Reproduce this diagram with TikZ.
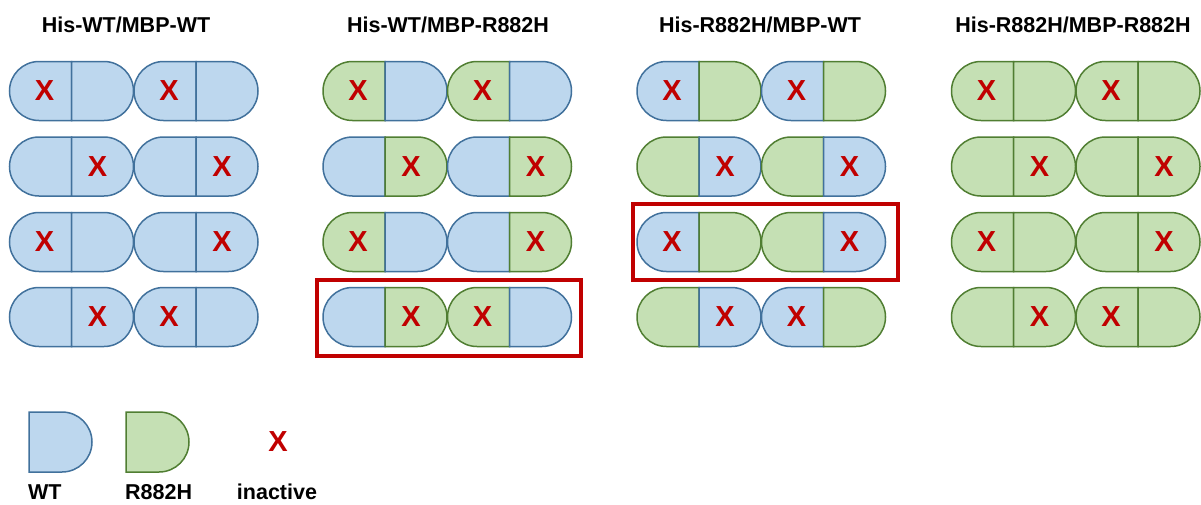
\documentclass[tikz,border=0pt]{standalone}
\usepackage{fontspec}
\setmainfont{Liberation Sans}
\definecolor{wtfill}{HTML}{BDD7EE}
\definecolor{wtline}{HTML}{41719C}
\definecolor{mutfill}{HTML}{C5E0B4}
\definecolor{mutline}{HTML}{507E32}
\definecolor{xred}{HTML}{C00000}
\tikzset{
  wt/.style={fill=wtfill,draw=wtline,line width=1.5pt},
  mut/.style={fill=mutfill,draw=mutline,line width=1.5pt},
  xmark/.style={text=xred,font=\fontsize{29}{29}\selectfont\bfseries,inner sep=0pt},
  title/.style={font=\fontsize{21.5}{21.5}\selectfont\bfseries,anchor=base,inner sep=0pt},
  legendlabel/.style={font=\fontsize{21.5}{21.5}\selectfont\bfseries,anchor=base,inner sep=0pt},
  redbox/.style={draw=xred,line width=4pt}
}
% left half: #1 divider x, #2 centre y (pixels, downward), #3 style
\newcommand{\lhalf}[3]{%
  \filldraw[#3] ({#1},{29.5-#2}) -- ({#1-32.5},{29.5-#2})
    arc[start angle=90,end angle=270,radius=29.5] -- ({#1},{-29.5-#2}) -- cycle;}
\newcommand{\rhalf}[3]{%
  \filldraw[#3] ({#1},{29.5-#2}) -- ({#1+32.5},{29.5-#2})
    arc[start angle=90,end angle=-90,radius=29.5] -- ({#1},{-29.5-#2}) -- cycle;}
% pill: #1 left x, #2 centre y, #3 left style, #4 right style, #5 X side (l/r)
\newcommand{\pill}[5]{%
  \lhalf{#1+62}{#2}{#3}\rhalf{#1+62}{#2}{#4}%
  \if#5l\node[xmark] at ({#1+62-27},{-#2}) {X};\else\node[xmark] at ({#1+62+26},{-#2}) {X};\fi}
\begin{document}
\begin{tikzpicture}[x=1pt,y=1pt]
\useasboundingbox (0,0) rectangle (1201,-504);
% titles
\node[title] (t1) at (126,-32) {His-WT/MBP-WT};
\node[title] (t2) at (448,-32) {His-WT/MBP-R882H};
\node[title] (t3) at (760,-32) {His-R882H/MBP-WT};
\node[title] (t4) at (1073,-32) {His-R882H/MBP-R882H};
% group 1: all WT
\pill{9.5}{91}{wt}{wt}{l}\pill{134}{91}{wt}{wt}{l}
\pill{9.5}{166.5}{wt}{wt}{r}\pill{134}{166.5}{wt}{wt}{r}
\pill{9.5}{242}{wt}{wt}{l}\pill{134}{242}{wt}{wt}{r}
\pill{9.5}{317}{wt}{wt}{r}\pill{134}{317}{wt}{wt}{l}
% group 2
\pill{323}{91}{mut}{wt}{l}\pill{447.5}{91}{mut}{wt}{l}
\pill{323}{166.5}{wt}{mut}{r}\pill{447.5}{166.5}{wt}{mut}{r}
\pill{323}{242}{mut}{wt}{l}\pill{447.5}{242}{wt}{mut}{r}
\pill{323}{317}{wt}{mut}{r}\pill{447.5}{317}{mut}{wt}{l}
% group 3
\pill{637}{91}{wt}{mut}{l}\pill{761.5}{91}{wt}{mut}{l}
\pill{637}{166.5}{mut}{wt}{r}\pill{761.5}{166.5}{mut}{wt}{r}
\pill{637}{242}{wt}{mut}{l}\pill{761.5}{242}{mut}{wt}{r}
\pill{637}{317}{mut}{wt}{r}\pill{761.5}{317}{wt}{mut}{l}
% group 4: all R882H
\pill{951.5}{91}{mut}{mut}{l}\pill{1076}{91}{mut}{mut}{l}
\pill{951.5}{166.5}{mut}{mut}{r}\pill{1076}{166.5}{mut}{mut}{r}
\pill{951.5}{242}{mut}{mut}{l}\pill{1076}{242}{mut}{mut}{r}
\pill{951.5}{317}{mut}{mut}{r}\pill{1076}{317}{mut}{mut}{l}
% highlight boxes
\draw[redbox] (317,-280) rectangle (581,-356);
\draw[redbox] (633,-204) rectangle (898,-280);
% legend
\filldraw[wt] (29,-412) -- (62,-412) arc[start angle=90,end angle=-90,radius=30] -- (29,-472) -- cycle;
\filldraw[mut] (126,-412) -- (159,-412) arc[start angle=90,end angle=-90,radius=30] -- (126,-472) -- cycle;
\node[xmark] (lx) at (278,-442) {X};
\node[legendlabel,anchor=base west] (lwt) at (28,-499) {WT};
\node[legendlabel,anchor=base west] (lmut) at (125,-499) {R882H};
\node[legendlabel] (lina) at (277,-499) {inactive};
\end{tikzpicture}
\end{document}
